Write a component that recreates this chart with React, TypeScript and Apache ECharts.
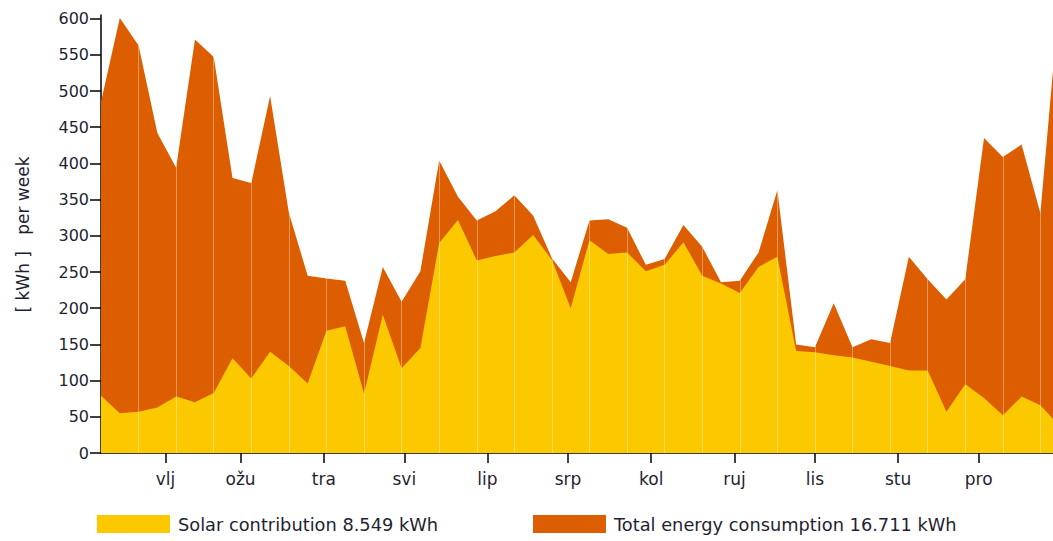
import React, { useEffect, useRef } from "react";
import * as echarts from "echarts";

// Weekly values (kWh per week)
const totalConsumption = [
  485, 601, 563, 442, 394, 571, 547, 380, 373, 493,
  332, 245, 241, 238, 152, 257, 209, 251, 404, 354,
  321, 334, 356, 328, 269, 236, 321, 323, 311, 260,
  268, 315, 285, 236, 238, 277, 363, 150, 146, 207,
  146, 157, 152, 271, 240, 212, 240, 435, 409, 426,
  331, 625,
];
const solarContribution = [
  79, 55, 57, 63, 78, 70, 83, 131, 103, 140,
  120, 96, 169, 175, 82, 191, 117, 145, 290, 322,
  266, 272, 277, 301, 267, 200, 294, 275, 277, 251,
  260, 291, 245, 234, 221, 257, 271, 141, 139, 135,
  132, 126, 120, 114, 114, 57, 95, 76, 52, 78,
  66, 38,
];

// first weekly point is day 7 of the year, one point every 7 days
const firstDay = 7;
const xMaxDay = 361.7;

// month starts (day of year) and their labels
const monthStartDays = [31, 59, 90, 120, 151, 181, 212, 243, 273, 304, 334];
const monthLabels = ["vlj", "ožu", "tra", "svi", "lip", "srp", "kol", "ruj", "lis", "stu", "pro"];

const yTicks = [0, 50, 100, 150, 200, 250, 300, 350, 400, 450, 500, 550, 600];

const solarName = "Solar contribution";
const totalName = "Total energy consumption";
const legendTotals: Record<string, string> = {
  [solarName]: "8.549 kWh",
  [totalName]: "16.711 kWh",
};
const yAxisTitle = "[ kWh ]   per week";

const FONT = '"DejaVu Sans", Verdana, sans-serif';
const TEXT = "#1f1f33";
const YELLOW = "#FCC900";
const ORANGE = "#DC5E00";

export default function App() {
  const ref = useRef<HTMLDivElement>(null);

  useEffect(() => {
    if (!ref.current) return;
    const chart = echarts.init(ref.current, null, { renderer: "svg" });

    const days = totalConsumption.map((_, i) => firstDay + 7 * i);
    const totalData = totalConsumption.map((v, i) => [days[i], v]);
    const solarData = solarContribution.map((v, i) => [days[i], v]);
    const gridLines = days
      .filter((_, i) => i > 0 && i % 2 === 0)
      .map((d) => ({ xAxis: d }));

    const legendCommon = {
      orient: "horizontal",
      top: 515,
      padding: 0,
      itemWidth: 73,
      itemHeight: 18,
      icon: "rect",
      selectedMode: false,
      formatter: (name: string) => `${name} ${legendTotals[name]}`,
      textStyle: {
        fontFamily: FONT,
        fontSize: 17.8,
        color: TEXT,
        padding: [0, 0, 0, 3],
      },
    };

    chart.setOption({
      animation: false,
      backgroundColor: "#ffffff",
      grid: { left: 101, right: 0, top: 15, bottom: 88, containLabel: false },
      legend: [
        { ...legendCommon, left: 97, data: [solarName] },
        { ...legendCommon, left: 533, data: [totalName] },
      ],
      xAxis: {
        type: "value",
        min: firstDay,
        max: xMaxDay,
        splitLine: { show: false },
        axisLine: { show: true, onZero: false, lineStyle: { color: "#000", width: 1.5 } },
        axisTick: {
          show: true,
          customValues: monthStartDays,
          length: 10,
          inside: false,
          lineStyle: { color: "#000", width: 1.5 },
        },
        axisLabel: {
          customValues: monthStartDays,
          formatter: (v: number) => {
            const idx = monthStartDays.indexOf(Math.round(v));
            return idx >= 0 ? monthLabels[idx] : "";
          },
          margin: 17,
          fontFamily: FONT,
          fontSize: 17,
          color: TEXT,
        },
      },
      yAxis: {
        type: "value",
        min: 0,
        max: 605,
        splitLine: { show: false },
        axisLine: { show: true, lineStyle: { color: "#000", width: 1.5 } },
        axisTick: {
          show: true,
          customValues: yTicks,
          length: 11,
          lineStyle: { color: "#000", width: 1.5 },
        },
        axisLabel: {
          customValues: yTicks,
          margin: 12,
          fontFamily: FONT,
          fontSize: 16,
          color: TEXT,
        },
      },
      graphic: [
        {
          type: "text",
          x: 23,
          y: 234.5,
          rotation: Math.PI / 2,
          style: {
            text: yAxisTitle,
            font: `17px ${FONT}`,
            fill: TEXT,
            align: "center",
            verticalAlign: "middle",
          },
        },
      ],
      series: [
        {
          name: totalName,
          type: "line",
          data: totalData,
          symbol: "none",
          color: ORANGE,
          lineStyle: { width: 0 },
          areaStyle: { color: ORANGE, opacity: 1 },
          z: 2,
        },
        {
          name: solarName,
          type: "line",
          data: solarData,
          symbol: "none",
          color: YELLOW,
          lineStyle: { width: 0 },
          areaStyle: { color: YELLOW, opacity: 1 },
          z: 3,
          markLine: {
            silent: true,
            symbol: "none",
            label: { show: false },
            lineStyle: { color: "rgba(255,255,255,0.35)", width: 1, type: "solid" },
            data: gridLines,
          },
        },
      ],
    });

    return () => chart.dispose();
  }, []);

  return (
    <div
      ref={ref}
      style={{ position: "fixed", left: 0, top: 0, width: 1053, height: 541 }}
    />
  );
}
